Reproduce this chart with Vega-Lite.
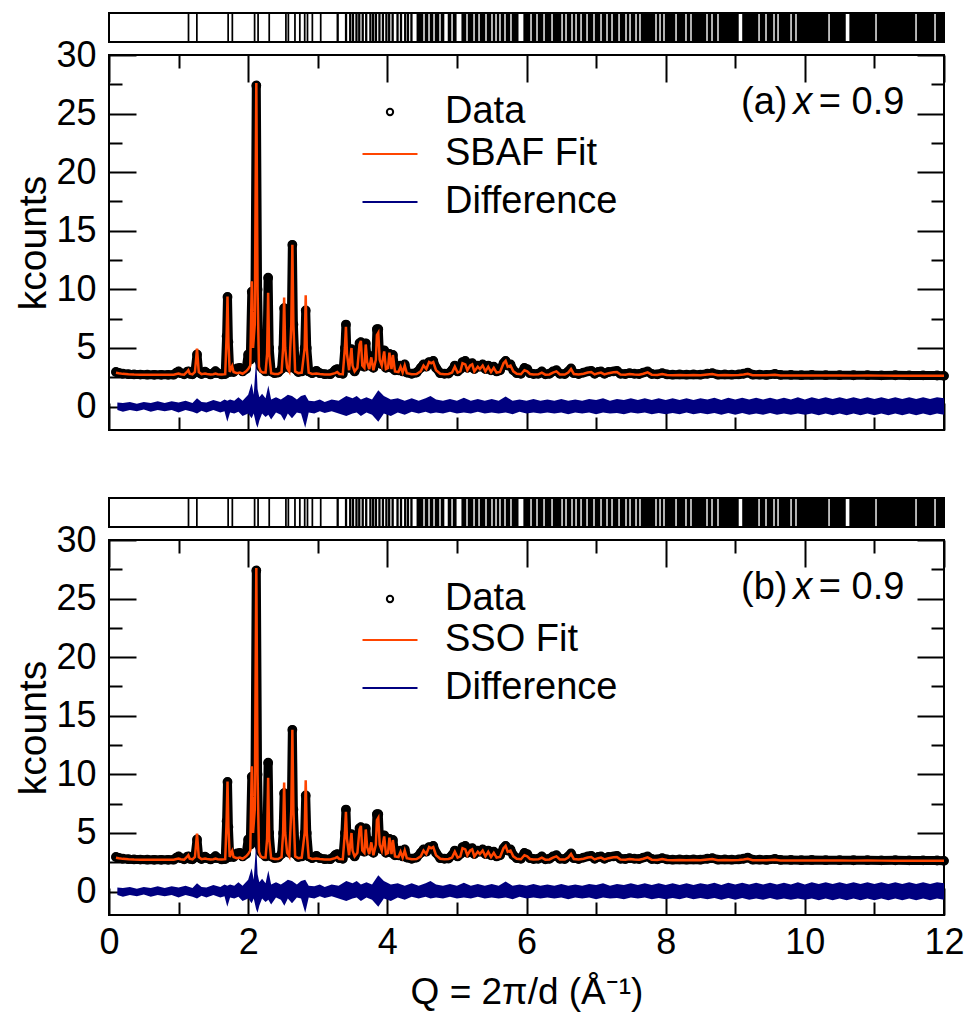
{
  "$schema": "https://vega.github.io/schema/vega-lite/v6.json",
  "background": "white",
  "padding": {"top": 12, "left": 13, "right": 4, "bottom": 8},
  "config": {
    "font": "Liberation Sans",
    "view": {"stroke": "black", "strokeWidth": 2},
    "axis": {"labelFont": "Liberation Sans", "titleFont": "Liberation Sans", "labelColor": "black", "titleColor": "black", "tickColor": "black", "tickWidth": 2, "domain": false, "grid": false},
    "legend": {"labelFont": "Liberation Sans", "labelColor": "black", "labelFontSize": 38, "labelLimit": 500, "padding": 0, "title": null},
    "text": {"font": "Liberation Sans", "color": "black"}
  },
  "datasets": {
    "pat": [
      {"Q":0.10,"o":2.95,"c":2.88},{"Q":0.14,"o":2.88,"c":2.84},{"Q":0.20,"o":2.80,"c":2.79},{"Q":0.28,"o":2.76,"c":2.75},
      {"Q":0.36,"o":2.74,"c":2.73},{"Q":0.45,"o":2.73,"c":2.72},{"Q":0.55,"o":2.72,"c":2.72},{"Q":0.65,"o":2.71,"c":2.71},
      {"Q":0.75,"o":2.71,"c":2.71},{"Q":0.85,"o":2.71,"c":2.71},{"Q":0.93,"o":2.72,"c":2.71},{"Q":0.97,"o":2.90,"c":2.78},
      {"Q":1.00,"o":3.00,"c":2.82},{"Q":1.03,"o":2.85,"c":2.76},{"Q":1.08,"o":2.75,"c":2.72},{"Q":1.12,"o":2.95,"c":2.95},
      {"Q":1.14,"o":3.00,"c":3.10},{"Q":1.16,"o":2.80,"c":2.80},{"Q":1.20,"o":2.75,"c":2.74},{"Q":1.235,"o":2.95,"c":2.95},
      {"Q":1.265,"o":4.45,"c":4.95},{"Q":1.29,"o":2.90,"c":2.95},{"Q":1.33,"o":2.78,"c":2.76},{"Q":1.38,"o":2.98,"c":2.82},
      {"Q":1.41,"o":2.85,"c":2.78},{"Q":1.46,"o":2.74,"c":2.73},{"Q":1.50,"o":2.85,"c":2.76},{"Q":1.53,"o":3.02,"c":2.82},
      {"Q":1.56,"o":2.85,"c":2.76},{"Q":1.62,"o":2.74,"c":2.73},{"Q":1.67,"o":2.78,"c":2.76},{"Q":1.69,"o":6.0,"c":6.0},
      {"Q":1.703,"o":9.35,"c":9.4},{"Q":1.716,"o":5.5,"c":5.5},{"Q":1.735,"o":2.95,"c":2.95},{"Q":1.77,"o":3.1,"c":3.45},
      {"Q":1.79,"o":2.95,"c":2.95},{"Q":1.84,"o":3.25,"c":2.85},{"Q":1.88,"o":3.3,"c":2.9},{"Q":1.92,"o":3.0,"c":2.8},
      {"Q":1.97,"o":3.2,"c":3.0},{"Q":2.00,"o":4.45,"c":3.2},{"Q":2.03,"o":4.0,"c":3.5},{"Q":2.052,"o":9.8,"c":10.7},
      {"Q":2.07,"o":5.5,"c":5.0},{"Q":2.095,"o":7.0,"c":7.0},{"Q":2.117,"o":27.4,"c":27.6},{"Q":2.135,"o":10.0,"c":10.0},
      {"Q":2.155,"o":4.0,"c":3.4},{"Q":2.18,"o":3.4,"c":3.0},{"Q":2.21,"o":3.2,"c":2.9},{"Q":2.25,"o":3.0,"c":2.9},
      {"Q":2.272,"o":5.0,"c":4.5},{"Q":2.287,"o":11.0,"c":9.7},{"Q":2.302,"o":5.0,"c":4.5},{"Q":2.33,"o":3.0,"c":2.85},
      {"Q":2.38,"o":2.85,"c":2.78},{"Q":2.43,"o":2.9,"c":2.78},{"Q":2.48,"o":3.2,"c":2.95},{"Q":2.502,"o":5.0,"c":5.0},
      {"Q":2.517,"o":8.4,"c":9.3},{"Q":2.532,"o":5.0,"c":5.0},{"Q":2.56,"o":3.5,"c":3.3},{"Q":2.59,"o":3.3,"c":3.0},
      {"Q":2.62,"o":7.0,"c":7.0},{"Q":2.635,"o":13.8,"c":13.8},{"Q":2.65,"o":7.0,"c":7.0},{"Q":2.675,"o":3.2,"c":3.0},
      {"Q":2.72,"o":2.95,"c":2.85},{"Q":2.77,"o":3.0,"c":2.9},{"Q":2.812,"o":5.0,"c":5.0},{"Q":2.827,"o":8.2,"c":9.5},
      {"Q":2.842,"o":5.0,"c":5.0},{"Q":2.87,"o":3.0,"c":2.9},{"Q":2.92,"o":2.85,"c":2.78},{"Q":2.98,"o":3.05,"c":2.82},
      {"Q":3.03,"o":2.85,"c":2.77},{"Q":3.10,"o":2.76,"c":2.74},{"Q":3.18,"o":2.76,"c":2.74},{"Q":3.25,"o":3.1,"c":2.85},
      {"Q":3.28,"o":3.2,"c":2.95},{"Q":3.31,"o":2.85,"c":2.78},{"Q":3.36,"o":2.8,"c":2.76},{"Q":3.39,"o":5.0,"c":5.0},
      {"Q":3.405,"o":7.0,"c":6.8},{"Q":3.42,"o":4.5,"c":4.5},{"Q":3.45,"o":3.3,"c":3.1},{"Q":3.485,"o":4.9,"c":5.0},
      {"Q":3.50,"o":3.5,"c":3.5},{"Q":3.53,"o":3.0,"c":3.0},{"Q":3.57,"o":3.4,"c":3.3},{"Q":3.60,"o":5.4,"c":5.3},
      {"Q":3.62,"o":5.5,"c":5.6},{"Q":3.64,"o":3.5,"c":3.5},{"Q":3.67,"o":3.4,"c":3.3},{"Q":3.69,"o":5.4,"c":5.3},
      {"Q":3.71,"o":4.0,"c":3.8},{"Q":3.74,"o":3.5,"c":3.2},{"Q":3.77,"o":4.3,"c":4.2},{"Q":3.80,"o":3.3,"c":3.1},
      {"Q":3.835,"o":4.0,"c":4.0},{"Q":3.85,"o":6.6,"c":6.1},{"Q":3.87,"o":6.6,"c":6.3},{"Q":3.89,"o":4.0,"c":4.0},
      {"Q":3.92,"o":3.6,"c":3.5},{"Q":3.955,"o":4.8,"c":4.7},{"Q":3.98,"o":3.3,"c":3.2},{"Q":4.01,"o":3.4,"c":3.3},
      {"Q":4.03,"o":4.5,"c":4.6},{"Q":4.06,"o":3.3,"c":3.2},{"Q":4.08,"o":4.4,"c":4.4},{"Q":4.11,"o":3.1,"c":3.0},
      {"Q":4.16,"o":3.1,"c":2.95},{"Q":4.19,"o":3.5,"c":3.4},{"Q":4.22,"o":3.0,"c":2.9},{"Q":4.25,"o":3.6,"c":3.5},
      {"Q":4.28,"o":2.9,"c":2.85},{"Q":4.35,"o":2.8,"c":2.76},{"Q":4.42,"o":2.9,"c":2.78},{"Q":4.48,"o":3.3,"c":3.0},
      {"Q":4.52,"o":3.6,"c":3.5},{"Q":4.56,"o":3.4,"c":3.2},{"Q":4.60,"o":3.8,"c":3.8},{"Q":4.63,"o":3.7,"c":3.7},
      {"Q":4.66,"o":3.9,"c":3.8},{"Q":4.70,"o":3.3,"c":3.1},{"Q":4.76,"o":2.85,"c":2.8},{"Q":4.82,"o":2.8,"c":2.76},
      {"Q":4.88,"o":2.82,"c":2.78},{"Q":4.93,"o":3.1,"c":2.9},{"Q":4.97,"o":3.5,"c":3.4},{"Q":5.01,"o":3.0,"c":2.9},
      {"Q":5.05,"o":3.2,"c":3.0},{"Q":5.08,"o":3.8,"c":3.7},{"Q":5.12,"o":3.9,"c":3.6},{"Q":5.15,"o":3.3,"c":3.1},
      {"Q":5.19,"o":3.6,"c":3.5},{"Q":5.22,"o":3.7,"c":3.6},{"Q":5.25,"o":3.2,"c":3.0},{"Q":5.30,"o":3.5,"c":3.4},
      {"Q":5.33,"o":3.4,"c":3.2},{"Q":5.37,"o":3.6,"c":3.5},{"Q":5.41,"o":3.2,"c":3.0},{"Q":5.45,"o":3.5,"c":3.4},
      {"Q":5.49,"o":3.1,"c":2.95},{"Q":5.53,"o":3.4,"c":3.3},{"Q":5.57,"o":3.0,"c":2.9},{"Q":5.62,"o":3.1,"c":2.95},
      {"Q":5.67,"o":3.7,"c":3.7},{"Q":5.70,"o":3.9,"c":3.9},{"Q":5.73,"o":3.5,"c":3.4},{"Q":5.77,"o":3.6,"c":3.5},
      {"Q":5.81,"o":3.1,"c":3.0},{"Q":5.86,"o":2.85,"c":2.8},{"Q":5.92,"o":2.8,"c":2.76},{"Q":5.97,"o":3.3,"c":3.1},
      {"Q":6.01,"o":3.2,"c":3.0},{"Q":6.05,"o":2.85,"c":2.78},{"Q":6.10,"o":2.78,"c":2.74},{"Q":6.17,"o":2.8,"c":2.75},
      {"Q":6.22,"o":3.0,"c":2.9},{"Q":6.27,"o":2.75,"c":2.72},{"Q":6.33,"o":2.8,"c":2.74},{"Q":6.38,"o":3.0,"c":2.9},
      {"Q":6.43,"o":3.1,"c":3.0},{"Q":6.48,"o":2.8,"c":2.74},{"Q":6.55,"o":2.78,"c":2.73},{"Q":6.60,"o":3.0,"c":2.9},
      {"Q":6.64,"o":3.25,"c":3.2},{"Q":6.68,"o":2.85,"c":2.78},{"Q":6.75,"o":2.78,"c":2.73},{"Q":6.82,"o":2.9,"c":2.8},
      {"Q":6.88,"o":3.0,"c":2.9},{"Q":6.93,"o":3.05,"c":2.95},{"Q":6.98,"o":2.8,"c":2.74},{"Q":7.03,"o":2.95,"c":2.85},
      {"Q":7.07,"o":3.0,"c":2.9},{"Q":7.12,"o":2.8,"c":2.74},{"Q":7.18,"o":2.95,"c":2.85},{"Q":7.25,"o":3.0,"c":2.92},
      {"Q":7.30,"o":3.05,"c":2.95},{"Q":7.35,"o":2.8,"c":2.74},{"Q":7.42,"o":2.78,"c":2.72},{"Q":7.48,"o":2.85,"c":2.78},
      {"Q":7.55,"o":2.8,"c":2.73},{"Q":7.62,"o":2.78,"c":2.72},{"Q":7.68,"o":2.9,"c":2.8},{"Q":7.74,"o":3.0,"c":2.92},
      {"Q":7.80,"o":2.78,"c":2.72},{"Q":7.88,"o":2.75,"c":2.7},{"Q":7.95,"o":2.85,"c":2.78},{"Q":8.02,"o":2.74,"c":2.7},
      {"Q":8.10,"o":2.72,"c":2.68},{"Q":8.20,"o":2.74,"c":2.7},{"Q":8.30,"o":2.72,"c":2.68},{"Q":8.40,"o":2.74,"c":2.7},
      {"Q":8.50,"o":2.72,"c":2.68},{"Q":8.60,"o":2.8,"c":2.74},{"Q":8.67,"o":2.85,"c":2.78},{"Q":8.75,"o":2.72,"c":2.68},
      {"Q":8.85,"o":2.74,"c":2.7},{"Q":8.95,"o":2.72,"c":2.68},{"Q":9.05,"o":2.74,"c":2.7},{"Q":9.12,"o":2.8,"c":2.74},
      {"Q":9.18,"o":2.9,"c":2.8},{"Q":9.25,"o":2.72,"c":2.68},{"Q":9.35,"o":2.72,"c":2.68},{"Q":9.45,"o":2.7,"c":2.67},
      {"Q":9.57,"o":2.78,"c":2.72},{"Q":9.65,"o":2.7,"c":2.66},{"Q":9.80,"o":2.7,"c":2.66},{"Q":9.95,"o":2.68,"c":2.65},
      {"Q":10.1,"o":2.7,"c":2.66},{"Q":10.3,"o":2.68,"c":2.65},{"Q":10.5,"o":2.68,"c":2.65},{"Q":10.7,"o":2.67,"c":2.64},
      {"Q":10.9,"o":2.68,"c":2.65},{"Q":11.1,"o":2.66,"c":2.64},{"Q":11.3,"o":2.67,"c":2.64},{"Q":11.5,"o":2.66,"c":2.64},
      {"Q":11.7,"o":2.66,"c":2.64},{"Q":11.9,"o":2.65,"c":2.63},{"Q":12.0,"o":2.62,"c":2.62}
    ],
    "dif": [
      {"Q":0.12,"lo":-0.3,"hi":0.35},{"Q":0.2,"lo":-0.45,"hi":0.3},{"Q":0.3,"lo":-0.3,"hi":0.4},{"Q":0.4,"lo":-0.4,"hi":0.25},
      {"Q":0.5,"lo":-0.25,"hi":0.4},{"Q":0.6,"lo":-0.45,"hi":0.3},{"Q":0.7,"lo":-0.3,"hi":0.45},{"Q":0.8,"lo":-0.4,"hi":0.3},
      {"Q":0.9,"lo":-0.3,"hi":0.45},{"Q":1.0,"lo":-0.5,"hi":0.35},{"Q":1.1,"lo":-0.3,"hi":0.5},{"Q":1.2,"lo":-0.45,"hi":0.3},
      {"Q":1.265,"lo":-0.6,"hi":0.7},{"Q":1.33,"lo":-0.35,"hi":0.4},{"Q":1.4,"lo":-0.5,"hi":0.35},{"Q":1.5,"lo":-0.3,"hi":0.55},
      {"Q":1.6,"lo":-0.5,"hi":0.4},{"Q":1.66,"lo":-0.4,"hi":0.6},{"Q":1.70,"lo":-1.3,"hi":0.5},{"Q":1.74,"lo":-0.5,"hi":0.6},
      {"Q":1.8,"lo":-0.6,"hi":0.5},{"Q":1.86,"lo":-0.45,"hi":0.8},{"Q":1.92,"lo":-0.8,"hi":0.5},{"Q":2.0,"lo":-0.6,"hi":1.0},
      {"Q":2.05,"lo":-1.0,"hi":2.0},{"Q":2.08,"lo":-0.6,"hi":1.0},{"Q":2.115,"lo":-1.5,"hi":4.1},{"Q":2.135,"lo":-1.8,"hi":1.5},
      {"Q":2.16,"lo":-1.2,"hi":0.8},{"Q":2.2,"lo":-0.6,"hi":1.1},{"Q":2.25,"lo":-0.9,"hi":0.7},{"Q":2.29,"lo":-0.7,"hi":1.8},
      {"Q":2.33,"lo":-1.1,"hi":0.6},{"Q":2.4,"lo":-0.5,"hi":0.8},{"Q":2.47,"lo":-0.7,"hi":0.6},{"Q":2.52,"lo":-1.2,"hi":0.8},
      {"Q":2.57,"lo":-0.6,"hi":1.0},{"Q":2.63,"lo":-1.0,"hi":0.9},{"Q":2.7,"lo":-0.5,"hi":0.6},{"Q":2.76,"lo":-0.6,"hi":0.9},
      {"Q":2.82,"lo":-1.8,"hi":1.0},{"Q":2.87,"lo":-0.5,"hi":0.5},{"Q":2.95,"lo":-0.6,"hi":0.45},{"Q":3.03,"lo":-0.4,"hi":0.6},
      {"Q":3.1,"lo":-0.55,"hi":0.4},{"Q":3.2,"lo":-0.4,"hi":0.6},{"Q":3.3,"lo":-0.6,"hi":0.5},{"Q":3.41,"lo":-0.8,"hi":0.9},
      {"Q":3.5,"lo":-0.6,"hi":0.7},{"Q":3.56,"lo":-0.5,"hi":0.9},{"Q":3.62,"lo":-0.8,"hi":0.6},{"Q":3.7,"lo":-0.5,"hi":0.8},
      {"Q":3.78,"lo":-0.7,"hi":0.6},{"Q":3.87,"lo":-1.3,"hi":1.4},{"Q":3.95,"lo":-0.6,"hi":0.9},{"Q":4.05,"lo":-0.8,"hi":0.6},
      {"Q":4.15,"lo":-0.5,"hi":0.7},{"Q":4.25,"lo":-0.7,"hi":0.5},{"Q":4.35,"lo":-0.45,"hi":0.7},{"Q":4.45,"lo":-0.6,"hi":0.5},
      {"Q":4.55,"lo":-0.45,"hi":0.7},{"Q":4.62,"lo":-0.6,"hi":0.9},{"Q":4.7,"lo":-0.5,"hi":0.6},{"Q":4.8,"lo":-0.6,"hi":0.5},
      {"Q":4.9,"lo":-0.45,"hi":0.65},{"Q":5.0,"lo":-0.6,"hi":0.5},{"Q":5.1,"lo":-0.5,"hi":0.75},{"Q":5.2,"lo":-0.6,"hi":0.5},
      {"Q":5.3,"lo":-0.45,"hi":0.65},{"Q":5.4,"lo":-0.6,"hi":0.5},{"Q":5.5,"lo":-0.5,"hi":0.65},{"Q":5.6,"lo":-0.6,"hi":0.5},
      {"Q":5.7,"lo":-0.5,"hi":0.85},{"Q":5.8,"lo":-0.65,"hi":0.5},{"Q":5.9,"lo":-0.45,"hi":0.6},{"Q":6.0,"lo":-0.6,"hi":0.5},
      {"Q":6.1,"lo":-0.5,"hi":0.65},{"Q":6.2,"lo":-0.6,"hi":0.5},{"Q":6.3,"lo":-0.5,"hi":0.6},{"Q":6.4,"lo":-0.6,"hi":0.5},
      {"Q":6.5,"lo":-0.5,"hi":0.65},{"Q":6.6,"lo":-0.65,"hi":0.5},{"Q":6.7,"lo":-0.5,"hi":0.6},{"Q":6.8,"lo":-0.6,"hi":0.5},
      {"Q":6.9,"lo":-0.5,"hi":0.65},{"Q":7.0,"lo":-0.65,"hi":0.55},{"Q":7.1,"lo":-0.5,"hi":0.7},{"Q":7.2,"lo":-0.6,"hi":0.5},
      {"Q":7.3,"lo":-0.55,"hi":0.65},{"Q":7.4,"lo":-0.65,"hi":0.55},{"Q":7.5,"lo":-0.5,"hi":0.7},{"Q":7.6,"lo":-0.6,"hi":0.55},
      {"Q":7.7,"lo":-0.5,"hi":0.7},{"Q":7.8,"lo":-0.65,"hi":0.55},{"Q":7.9,"lo":-0.55,"hi":0.7},{"Q":8.0,"lo":-0.65,"hi":0.55},
      {"Q":8.1,"lo":-0.55,"hi":0.7},{"Q":8.2,"lo":-0.65,"hi":0.55},{"Q":8.3,"lo":-0.5,"hi":0.7},{"Q":8.4,"lo":-0.65,"hi":0.55},
      {"Q":8.5,"lo":-0.55,"hi":0.7},{"Q":8.6,"lo":-0.65,"hi":0.6},{"Q":8.7,"lo":-0.55,"hi":0.75},{"Q":8.8,"lo":-0.7,"hi":0.55},
      {"Q":8.9,"lo":-0.55,"hi":0.75},{"Q":9.0,"lo":-0.7,"hi":0.6},{"Q":9.1,"lo":-0.55,"hi":0.75},{"Q":9.2,"lo":-0.7,"hi":0.6},
      {"Q":9.3,"lo":-0.6,"hi":0.75},{"Q":9.4,"lo":-0.7,"hi":0.6},{"Q":9.5,"lo":-0.55,"hi":0.75},{"Q":9.6,"lo":-0.7,"hi":0.6},
      {"Q":9.7,"lo":-0.6,"hi":0.75},{"Q":9.8,"lo":-0.7,"hi":0.6},{"Q":9.9,"lo":-0.6,"hi":0.8},{"Q":10.0,"lo":-0.7,"hi":0.6},
      {"Q":10.1,"lo":-0.6,"hi":0.8},{"Q":10.2,"lo":-0.75,"hi":0.65},{"Q":10.3,"lo":-0.6,"hi":0.8},{"Q":10.4,"lo":-0.75,"hi":0.65},
      {"Q":10.5,"lo":-0.6,"hi":0.8},{"Q":10.6,"lo":-0.75,"hi":0.65},{"Q":10.7,"lo":-0.6,"hi":0.8},{"Q":10.8,"lo":-0.75,"hi":0.65},
      {"Q":10.9,"lo":-0.6,"hi":0.8},{"Q":11.0,"lo":-0.75,"hi":0.65},{"Q":11.1,"lo":-0.6,"hi":0.8},{"Q":11.2,"lo":-0.75,"hi":0.65},
      {"Q":11.3,"lo":-0.6,"hi":0.8},{"Q":11.4,"lo":-0.75,"hi":0.65},{"Q":11.5,"lo":-0.6,"hi":0.8},{"Q":11.6,"lo":-0.75,"hi":0.65},
      {"Q":11.7,"lo":-0.6,"hi":0.8},{"Q":11.8,"lo":-0.75,"hi":0.65},{"Q":11.9,"lo":-0.6,"hi":0.8},{"Q":12.0,"lo":-0.7,"hi":0.7}
    ],
    "brg": [
      {"a":1.13,"b":1.155},{"a":1.25,"b":1.275},{"a":1.70,"b":1.725},{"a":1.76,"b":1.785},{"a":2.08,"b":2.105},{"a":2.13,"b":2.155},
      {"a":2.29,"b":2.315},{"a":2.53,"b":2.555},{"a":2.565,"b":2.59},{"a":2.66,"b":2.685},{"a":2.73,"b":2.755},{"a":2.80,"b":2.825},
      {"a":2.84,"b":2.865},{"a":2.91,"b":2.935},{"a":3.03,"b":3.055},{"a":3.27,"b":3.303},{"a":3.39,"b":3.423},{"a":3.45,"b":3.483},
      {"a":3.49,"b":3.523},{"a":3.54,"b":3.573},{"a":3.58,"b":3.613},{"a":3.63,"b":3.663},{"a":3.68,"b":3.713},{"a":3.74,"b":3.773},
      {"a":3.78,"b":3.813},{"a":3.82,"b":3.853},{"a":3.87,"b":3.903},{"a":3.92,"b":3.953},{"a":3.97,"b":4.003},{"a":4.01,"b":4.043},
      {"a":4.06,"b":4.093},{"a":4.13,"b":4.163},{"a":4.18,"b":4.213},{"a":4.24,"b":4.273},{"a":4.28,"b":4.313},{"a":4.33,"b":4.363},
      {"a":4.42,"b":4.517},{"a":4.537,"b":4.589},{"a":4.609,"b":4.661},{"a":4.681,"b":4.747},{"a":4.767,"b":4.819},{"a":4.868,"b":4.920},
      {"a":4.940,"b":4.995},{"a":5.065,"b":5.135},{"a":5.155,"b":5.236},{"a":5.256,"b":5.308},{"a":5.328,"b":5.408},{"a":5.428,"b":5.494},
      {"a":5.514,"b":5.552},{"a":5.572,"b":5.609},{"a":5.629,"b":5.681},{"a":5.701,"b":5.767},{"a":5.787,"b":5.885},{"a":5.955,"b":6.055},
      {"a":6.075,"b":6.141},{"a":6.161,"b":6.242},{"a":6.262,"b":6.357},{"a":6.377,"b":6.501},{"a":6.521,"b":6.558},{"a":6.578,"b":6.644},
      {"a":6.664,"b":6.702},{"a":6.722,"b":6.774},{"a":6.794,"b":6.860},{"a":6.880,"b":6.960},{"a":6.980,"b":7.061},{"a":7.081,"b":7.147},
      {"a":7.167,"b":7.219},{"a":7.239,"b":7.320},{"a":7.340,"b":7.420},{"a":7.440,"b":7.478},{"a":7.498,"b":7.564},{"a":7.584,"b":7.621},
      {"a":7.641,"b":7.851},{"a":7.871,"b":7.909},{"a":7.929,"b":7.966},{"a":7.986,"b":8.139},{"a":8.159,"b":8.282},{"a":8.302,"b":8.354},
      {"a":8.374,"b":8.584},{"a":8.604,"b":8.656},{"a":8.676,"b":8.742},{"a":8.762,"b":9.050},{"a":9.100,"b":9.332},{"a":9.352,"b":9.432},
      {"a":9.452,"b":9.547},{"a":9.567,"b":9.605},{"a":9.625,"b":9.792},{"a":9.812,"b":9.863},{"a":9.883,"b":10.338},{"a":10.358,"b":10.588},
      {"a":10.640,"b":11.013},{"a":11.033,"b":11.588},{"a":11.608,"b":11.861},{"a":11.881,"b":12.0}
    ]
  },
  "resolve": {"scale": {"color": "independent", "shape": "independent"}, "legend": {"color": "independent", "shape": "independent"}},
  "bounds": "flush",
  "spacing": 13,
  "vconcat": [
    {
      "width": 835, "height": 29,
      "data": {"name": "brg"},
      "mark": {"type": "rect", "color": "black"},
      "encoding": {
        "x": {"field": "a", "type": "quantitative", "scale": {"domain": [0, 12], "nice": false, "zero": false}, "axis": null},
        "x2": {"field": "b"}
      }
    },
    {
      "width": 835, "height": 375,
      "resolve": {"axis": {"x": "independent", "y": "independent"}},
      "layer": [
        {
          "data": {"name": "pat"},
          "mark": {"type": "line", "color": "black", "strokeWidth": 9, "strokeJoin": "round", "strokeCap": "round"},
          "encoding": {
            "x": {"field": "Q", "type": "quantitative", "scale": {"domain": [0, 12], "nice": false, "zero": false},
              "axis": {"orient": "bottom", "values": [0,1,2,3,4,5,6,7,8,9,10,11,12], "labels": false, "title": null,
                "tickSize": {"condition": {"test": "datum.value % 2 === 0", "value": -27}, "value": -13}}},
            "y": {"field": "o", "type": "quantitative", "scale": {"domain": [-2, 30], "nice": false, "zero": false},
              "axis": {"orient": "left", "values": [0,2.5,5,7.5,10,12.5,15,17.5,20,22.5,25,27.5,30],
                "tickSize": {"condition": {"test": "datum.value % 5 === 0", "value": -27}, "value": -13},
                "labelExpr": "datum.value % 5 === 0 ? datum.label : ''", "labelFontSize": 36, "labelPadding": 40,
                "labelFlush": false, "labelOverlap": false, "title": "kcounts", "titleFontSize": 39, "titleFontWeight": "normal", "titlePadding": 2}}
          }
        },
        {
          "data": {"name": "pat"},
          "mark": {"type": "point", "color": "black", "filled": false, "size": 52, "strokeWidth": 2.6, "opacity": 1},
          "encoding": {
            "x": {"field": "Q", "type": "quantitative", "scale": {"domain": [0, 12], "nice": false, "zero": false},
              "axis": {"orient": "top", "values": [0,1,2,3,4,5,6,7,8,9,10,11,12], "labels": false, "title": null,
                "tickSize": {"condition": {"test": "datum.value % 2 === 0", "value": -27}, "value": -13}}},
            "y": {"field": "o", "type": "quantitative", "scale": {"domain": [-2, 30], "nice": false, "zero": false},
              "axis": {"orient": "right", "values": [0,2.5,5,7.5,10,12.5,15,17.5,20,22.5,25,27.5,30], "labels": false, "title": null,
                "tickSize": {"condition": {"test": "datum.value % 5 === 0", "value": -27}, "value": -13}}},
            "shape": {"datum": "Data", "type": "nominal", "scale": {"domain": ["Data"], "range": ["circle"]},
              "legend": {"orient": "none", "legendX": 262, "legendY": 38, "symbolSize": 40, "symbolStrokeWidth": 2,
                "symbolStrokeColor": "black", "symbolFillColor": "transparent", "labelOffset": 36}}
          }
        },
        {
          "data": {"name": "pat"},
          "mark": {"type": "line", "strokeWidth": 2.5},
          "encoding": {
            "x": {"field": "Q", "type": "quantitative", "scale": {"domain": [0, 12], "nice": false, "zero": false}, "axis": null},
            "y": {"field": "c", "type": "quantitative", "scale": {"domain": [-2, 30], "nice": false, "zero": false}, "axis": null},
            "color": {"datum": "SBAF Fit", "type": "nominal",
              "scale": {"domain": ["SBAF Fit", "Difference"], "range": ["#ff4500", "#000080"]},
              "legend": {"orient": "none", "legendX": 252, "legendY": 70, "symbolType": "stroke", "symbolSize": 3025,
                "symbolStrokeWidth": 2.2, "labelOffset": 26, "rowPadding": -8}}
          }
        },
        {
          "data": {"name": "dif"},
          "mark": {"type": "area", "opacity": 1},
          "encoding": {
            "x": {"field": "Q", "type": "quantitative", "scale": {"domain": [0, 12], "nice": false, "zero": false}, "axis": null},
            "y": {"field": "lo", "type": "quantitative", "scale": {"domain": [-2, 30], "nice": false, "zero": false}, "axis": null},
            "y2": {"field": "hi"},
            "color": {"datum": "Difference", "type": "nominal"}
          }
        },
        {
          "data": {"values": [{}]},
          "mark": {"type": "text", "text": "(a)", "fontSize": 38, "align": "right", "baseline": "middle"},
          "encoding": {
            "x": {"datum": 9.75, "type": "quantitative", "axis": null},
            "y": {"datum": 25.9, "type": "quantitative", "axis": null}
          }
        },
        {
          "data": {"values": [{}]},
          "mark": {"type": "text", "text": "x", "fontSize": 38, "fontStyle": "italic", "align": "center", "baseline": "middle"},
          "encoding": {
            "x": {"datum": 9.97, "type": "quantitative", "axis": null},
            "y": {"datum": 25.9, "type": "quantitative", "axis": null}
          }
        },
        {
          "data": {"values": [{}]},
          "mark": {"type": "text", "text": "= 0.9", "fontSize": 38, "align": "left", "baseline": "middle"},
          "encoding": {
            "x": {"datum": 10.2, "type": "quantitative", "axis": null},
            "y": {"datum": 25.9, "type": "quantitative", "axis": null}
          }
        }
      ]
    },
    {
      "width": 835, "height": 42,
      "view": {"stroke": null},
      "data": {"values": [{}]},
      "mark": {"type": "text", "text": ""}
    },
    {
      "width": 835, "height": 29,
      "data": {"name": "brg"},
      "mark": {"type": "rect", "color": "black"},
      "encoding": {
        "x": {"field": "a", "type": "quantitative", "scale": {"domain": [0, 12], "nice": false, "zero": false}, "axis": null},
        "x2": {"field": "b"}
      }
    },
    {
      "width": 835, "height": 375,
      "resolve": {"axis": {"x": "independent", "y": "independent"}},
      "layer": [
        {
          "data": {"name": "pat"},
          "mark": {"type": "line", "color": "black", "strokeWidth": 9, "strokeJoin": "round", "strokeCap": "round"},
          "encoding": {
            "x": {"field": "Q", "type": "quantitative", "scale": {"domain": [0, 12], "nice": false, "zero": false},
              "axis": {"orient": "bottom", "values": [0,1,2,3,4,5,6,7,8,9,10,11,12],
                "tickSize": {"condition": {"test": "datum.value % 2 === 0", "value": -27}, "value": -13},
                "labelExpr": "datum.value % 2 === 0 ? datum.label : ''", "labelFontSize": 36, "labelPadding": 37,
                "labelFlush": false, "labelOverlap": false,
                "title": "Q = 2π/d (Å⁻¹)", "titleFontSize": 37, "titleFontWeight": "normal", "titlePadding": 0}},
            "y": {"field": "o", "type": "quantitative", "scale": {"domain": [-2, 30], "nice": false, "zero": false},
              "axis": {"orient": "left", "values": [0,2.5,5,7.5,10,12.5,15,17.5,20,22.5,25,27.5,30],
                "tickSize": {"condition": {"test": "datum.value % 5 === 0", "value": -27}, "value": -13},
                "labelExpr": "datum.value % 5 === 0 ? datum.label : ''", "labelFontSize": 36, "labelPadding": 40,
                "labelFlush": false, "labelOverlap": false, "title": "kcounts", "titleFontSize": 39, "titleFontWeight": "normal", "titlePadding": 2}}
          }
        },
        {
          "data": {"name": "pat"},
          "mark": {"type": "point", "color": "black", "filled": false, "size": 52, "strokeWidth": 2.6, "opacity": 1},
          "encoding": {
            "x": {"field": "Q", "type": "quantitative", "scale": {"domain": [0, 12], "nice": false, "zero": false},
              "axis": {"orient": "top", "values": [0,1,2,3,4,5,6,7,8,9,10,11,12], "labels": false, "title": null,
                "tickSize": {"condition": {"test": "datum.value % 2 === 0", "value": -27}, "value": -13}}},
            "y": {"field": "o", "type": "quantitative", "scale": {"domain": [-2, 30], "nice": false, "zero": false},
              "axis": {"orient": "right", "values": [0,2.5,5,7.5,10,12.5,15,17.5,20,22.5,25,27.5,30], "labels": false, "title": null,
                "tickSize": {"condition": {"test": "datum.value % 5 === 0", "value": -27}, "value": -13}}},
            "shape": {"datum": "Data", "type": "nominal", "scale": {"domain": ["Data"], "range": ["circle"]},
              "legend": {"orient": "none", "legendX": 262, "legendY": 40, "symbolSize": 40, "symbolStrokeWidth": 2,
                "symbolStrokeColor": "black", "symbolFillColor": "transparent", "labelOffset": 36}}
          }
        },
        {
          "data": {"name": "pat"},
          "mark": {"type": "line", "strokeWidth": 2.5},
          "encoding": {
            "x": {"field": "Q", "type": "quantitative", "scale": {"domain": [0, 12], "nice": false, "zero": false}, "axis": null},
            "y": {"field": "c", "type": "quantitative", "scale": {"domain": [-2, 30], "nice": false, "zero": false}, "axis": null},
            "color": {"datum": "SSO Fit", "type": "nominal",
              "scale": {"domain": ["SSO Fit", "Difference"], "range": ["#ff4500", "#000080"]},
              "legend": {"orient": "none", "legendX": 252, "legendY": 71, "symbolType": "stroke", "symbolSize": 3025,
                "symbolStrokeWidth": 2.2, "labelOffset": 26, "rowPadding": -8}}
          }
        },
        {
          "data": {"name": "dif"},
          "mark": {"type": "area", "opacity": 1},
          "encoding": {
            "x": {"field": "Q", "type": "quantitative", "scale": {"domain": [0, 12], "nice": false, "zero": false}, "axis": null},
            "y": {"field": "lo", "type": "quantitative", "scale": {"domain": [-2, 30], "nice": false, "zero": false}, "axis": null},
            "y2": {"field": "hi"},
            "color": {"datum": "Difference", "type": "nominal"}
          }
        },
        {
          "data": {"values": [{}]},
          "mark": {"type": "text", "text": "(b)", "fontSize": 38, "align": "right", "baseline": "middle"},
          "encoding": {
            "x": {"datum": 9.75, "type": "quantitative", "axis": null},
            "y": {"datum": 25.9, "type": "quantitative", "axis": null}
          }
        },
        {
          "data": {"values": [{}]},
          "mark": {"type": "text", "text": "x", "fontSize": 38, "fontStyle": "italic", "align": "center", "baseline": "middle"},
          "encoding": {
            "x": {"datum": 9.97, "type": "quantitative", "axis": null},
            "y": {"datum": 25.9, "type": "quantitative", "axis": null}
          }
        },
        {
          "data": {"values": [{}]},
          "mark": {"type": "text", "text": "= 0.9", "fontSize": 38, "align": "left", "baseline": "middle"},
          "encoding": {
            "x": {"datum": 10.2, "type": "quantitative", "axis": null},
            "y": {"datum": 25.9, "type": "quantitative", "axis": null}
          }
        }
      ]
    }
  ]
}
